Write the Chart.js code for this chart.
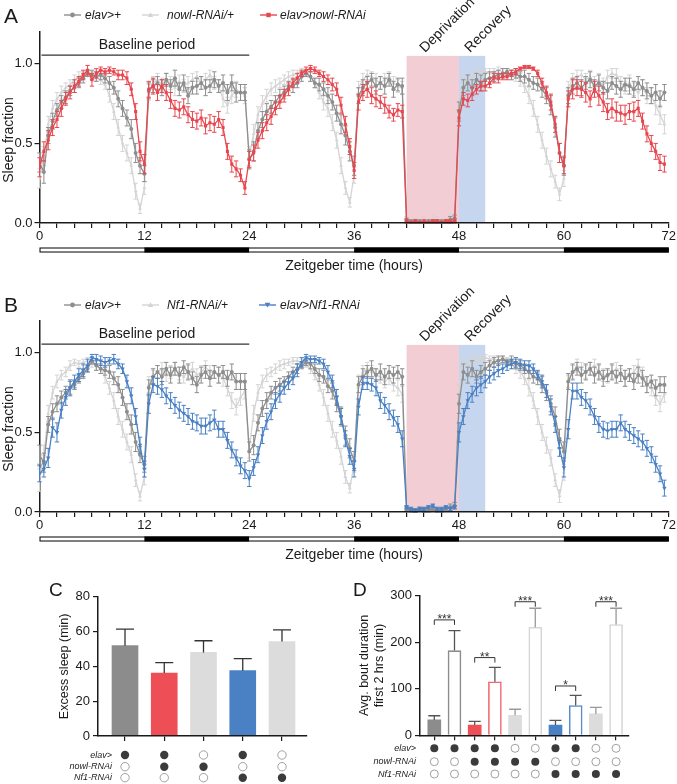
<!DOCTYPE html>
<html><head><meta charset="utf-8">
<script src="https://cdn.jsdelivr.net/npm/chart.js@4.4.1/dist/chart.umd.min.js"></script>
<style>
html,body{margin:0;padding:0;background:#fff;}
body{width:677px;height:784px;position:relative;overflow:hidden;font-family:"Liberation Sans",Arial,sans-serif;color:#1a1a1a;}
canvas{position:absolute;}
.t{position:absolute;white-space:nowrap;line-height:1;}
.i{font-style:italic;}
.lg{position:absolute;}
.rot{position:absolute;white-space:nowrap;line-height:1;transform:translate(-50%,-50%) rotate(-90deg);}
.diag{position:absolute;white-space:nowrap;line-height:1;font-size:14px;transform-origin:0 11.85px;transform:rotate(-45deg);}
</style></head><body>
<canvas id="cA" style="left:0;top:0" width="677" height="285"></canvas>
<canvas id="cB" style="left:0;top:289px" width="677" height="285"></canvas>
<canvas id="cC" style="left:0;top:560px" width="340" height="224"></canvas>
<canvas id="cD" style="left:340px;top:560px" width="337" height="224"></canvas>

<div class="t" style="left:4px;top:5px;font-size:21px">A</div>
<div class="t" style="left:4px;top:294px;font-size:21px">B</div>
<div class="t" style="left:49px;top:580px;font-size:19px">C</div>
<div class="t" style="left:353px;top:580px;font-size:19px">D</div>

<!-- legends -->
<svg class="lg" style="left:64px;top:10px" width="17" height="10"><line x1="0" y1="5" x2="17" y2="5" stroke="#8e8e8e" stroke-width="1.4"/><circle cx="8.5" cy="5" r="2.4" fill="#8e8e8e"/></svg>
<div class="t i" style="left:85px;top:9px;font-size:12px">elav&gt;+</div>
<svg class="lg" style="left:142px;top:10px" width="17" height="10"><line x1="0" y1="5" x2="17" y2="5" stroke="#d4d4d4" stroke-width="1.4"/><polygon points="8.5,2.3 11.2,7 5.8,7" fill="#d4d4d4"/></svg>
<div class="t i" style="left:167px;top:9px;font-size:12px">nowl-RNAi/+</div>
<svg class="lg" style="left:260px;top:10px" width="17" height="10"><line x1="0" y1="5" x2="17" y2="5" stroke="#e8474f" stroke-width="1.4"/><rect x="6.3" y="2.8" width="4.4" height="4.4" fill="#e8474f"/></svg>
<div class="t i" style="left:280px;top:9px;font-size:12px">elav&gt;nowl-RNAi</div>

<svg class="lg" style="left:64px;top:300px" width="17" height="10"><line x1="0" y1="5" x2="17" y2="5" stroke="#8e8e8e" stroke-width="1.4"/><circle cx="8.5" cy="5" r="2.4" fill="#8e8e8e"/></svg>
<div class="t i" style="left:85px;top:299px;font-size:12px">elav&gt;+</div>
<svg class="lg" style="left:142px;top:300px" width="17" height="10"><line x1="0" y1="5" x2="17" y2="5" stroke="#d4d4d4" stroke-width="1.4"/><polygon points="8.5,2.3 11.2,7 5.8,7" fill="#d4d4d4"/></svg>
<div class="t i" style="left:167px;top:299px;font-size:12px">Nf1-RNAi/+</div>
<svg class="lg" style="left:259px;top:300px" width="17" height="10"><line x1="0" y1="5" x2="17" y2="5" stroke="#4a80c4" stroke-width="1.4"/><polygon points="5.6,2.8 11.4,2.8 8.5,7.6" fill="#4a80c4"/></svg>
<div class="t i" style="left:280px;top:299px;font-size:12px">elav&gt;Nf1-RNAi</div>

<!-- annotations -->
<div class="t" style="left:147px;top:36.5px;font-size:14px;transform:translateX(-50%)">Baseline period</div>
<div class="t" style="left:147px;top:326px;font-size:14px;transform:translateX(-50%)">Baseline period</div>
<div class="diag" style="left:425px;top:41.2px">Deprivation</div>
<div class="diag" style="left:469.5px;top:40.9px">Recovery</div>
<div class="diag" style="left:425px;top:329.9px">Deprivation</div>
<div class="diag" style="left:469.5px;top:329.9px">Recovery</div>
<div class="rot" style="left:8px;top:140px;font-size:14px">Sleep fraction</div>
<div class="rot" style="left:8px;top:429px;font-size:14px">Sleep fraction</div>

<!-- dot matrix labels -->
<div class="t i" style="right:565px;top:750.6px;font-size:9px">elav&gt;</div>
<div class="t i" style="right:565px;top:762.3px;font-size:9px">nowl-RNAi</div>
<div class="t i" style="right:565px;top:773.3px;font-size:9px">Nf1-RNAi</div>
<div class="t i" style="right:261px;top:743.9px;font-size:9px">elav&gt;</div>
<div class="t i" style="right:261px;top:757.3px;font-size:9px">nowl-RNAi</div>
<div class="t i" style="right:261px;top:769.6px;font-size:9px">Nf1-RNAi</div>

<script>
// ---------- DATA ----------
// time axis (hours, 30-min bins)
const hours = Array.from({length:144},(_,i)=>i*0.5);
const xLabelHours = [0,12,24,36,48,60,72];
const sleepTicks = [0,0.5,1.0];
const ldBounds = [0,12,24,36,48,60,72];
const ldDark = [false,true,false,true,false,true];
const deprivationWin = [42,48];
const recoveryWin = [48,51];
const shadeTop = 1.05;
const baselineWin = [0,24];
const baselineLevel = 1.055;

// Panel A
const aElav = [
.38,.32,.55,.64,.71,.76,.79,.83,.85,.88,.91,.94,.93,.92,.93,.91,.88,.85,.78,.72,.66,.59,.44,.36,
.31,.83,.86,.88,.85,.90,.86,.91,.84,.88,.80,.85,.86,.88,.85,.86,.90,.86,.88,.82,.88,.82,.82,.82,
.40,.45,.58,.65,.70,.73,.76,.80,.82,.86,.86,.88,.92,.94,.92,.88,.87,.84,.80,.76,.69,.62,.55,.45,
.36,.80,.85,.88,.90,.86,.88,.86,.90,.84,.87,.86,.02,.01,.01,.01,.00,.01,.01,.01,.01,.01,.02,.03,
.70,.85,.88,.85,.90,.88,.90,.91,.92,.93,.94,.95,.93,.94,.92,.92,.90,.88,.87,.84,.80,.74,.60,.44,
.36,.80,.86,.88,.85,.88,.90,.86,.88,.85,.83,.88,.86,.84,.87,.86,.84,.88,.85,.83,.80,.82,.78,.82];
const aElavErr = [
.06,.07,.05,.05,.04,.04,.04,.03,.03,.03,.03,.02,.03,.03,.03,.03,.04,.04,.05,.05,.05,.06,.06,.05,
.05,.05,.04,.04,.05,.04,.04,.05,.04,.05,.05,.04,.05,.04,.05,.04,.05,.04,.05,.05,.05,.06,.05,.05,
.06,.06,.05,.05,.05,.04,.04,.04,.04,.03,.04,.03,.03,.02,.03,.03,.04,.04,.05,.05,.05,.06,.06,.06,
.06,.05,.05,.04,.04,.05,.04,.05,.04,.05,.04,.05,.01,.01,.01,.01,.01,.01,.01,.01,.01,.01,.02,.02,
.06,.05,.05,.05,.04,.05,.04,.04,.03,.03,.03,.02,.03,.03,.03,.04,.04,.04,.04,.05,.05,.06,.06,.06,
.06,.05,.05,.04,.05,.04,.05,.04,.05,.04,.05,.04,.05,.05,.04,.05,.05,.04,.05,.05,.05,.05,.05,.05];
const aNowl = [
.28,.42,.62,.72,.78,.82,.85,.87,.90,.92,.93,.94,.93,.92,.90,.87,.80,.70,.60,.50,.44,.36,.20,.09,
.22,.82,.88,.90,.87,.90,.88,.85,.89,.86,.88,.90,.92,.88,.90,.93,.88,.86,.78,.74,.80,.84,.82,.80,
.42,.56,.68,.75,.80,.84,.86,.88,.90,.92,.93,.94,.95,.94,.92,.88,.82,.76,.72,.63,.52,.36,.22,.13,
.30,.85,.90,.93,.92,.90,.88,.90,.92,.88,.86,.85,.03,.01,.02,.01,.02,.01,.03,.02,.01,.02,.03,.04,
.72,.88,.90,.92,.94,.93,.95,.94,.95,.96,.95,.94,.93,.92,.90,.86,.80,.72,.62,.52,.42,.34,.26,.18,
.28,.85,.90,.92,.93,.90,.92,.88,.90,.86,.92,.94,.93,.88,.85,.88,.84,.82,.85,.80,.80,.74,.68,.62];
const aNowlErr = [
.06,.06,.05,.05,.04,.04,.03,.03,.03,.03,.02,.02,.02,.03,.03,.03,.04,.05,.05,.05,.05,.05,.05,.03,
.04,.05,.04,.04,.04,.04,.04,.05,.04,.04,.04,.04,.03,.04,.04,.03,.04,.04,.05,.05,.05,.05,.05,.05,
.06,.06,.05,.05,.04,.04,.04,.03,.03,.03,.03,.02,.02,.02,.03,.03,.04,.05,.05,.05,.05,.05,.04,.03,
.05,.04,.04,.03,.03,.04,.04,.04,.03,.04,.04,.04,.01,.01,.01,.01,.02,.01,.02,.02,.01,.01,.02,.02,
.05,.04,.03,.03,.03,.03,.02,.03,.02,.02,.02,.03,.03,.03,.04,.04,.05,.05,.05,.05,.05,.05,.04,.04,
.05,.04,.04,.04,.03,.04,.04,.04,.04,.05,.04,.03,.04,.04,.04,.05,.04,.05,.05,.05,.05,.06,.06,.06];
const aRnai = [
.35,.45,.52,.60,.65,.72,.78,.82,.86,.89,.93,.96,.90,.94,.96,.95,.96,.95,.93,.93,.91,.84,.70,.45,
.37,.84,.86,.82,.86,.82,.77,.72,.71,.73,.68,.65,.64,.66,.61,.63,.62,.65,.60,.45,.37,.34,.30,.22,
.40,.44,.52,.58,.63,.67,.72,.76,.80,.84,.88,.91,.94,.96,.97,.96,.94,.92,.90,.87,.84,.74,.62,.48,
.33,.76,.82,.84,.80,.78,.76,.74,.70,.68,.71,.70,.01,.00,.01,.00,.01,.00,.01,.01,.00,.01,.01,.01,
.66,.78,.77,.81,.84,.86,.86,.88,.91,.91,.92,.92,.94,.95,.97,.98,.98,.97,.94,.88,.82,.76,.62,.44,
.36,.78,.84,.85,.84,.82,.78,.84,.80,.76,.70,.72,.70,.69,.68,.70,.70,.72,.64,.56,.50,.45,.38,.37];
const aRnaiErr = [
.06,.06,.06,.05,.05,.05,.04,.04,.04,.03,.03,.03,.04,.03,.02,.02,.02,.02,.03,.03,.04,.04,.05,.06,
.06,.05,.05,.05,.04,.05,.05,.05,.05,.05,.05,.05,.05,.05,.05,.05,.05,.05,.05,.05,.05,.05,.04,.04,
.05,.05,.05,.05,.05,.05,.04,.04,.04,.04,.03,.03,.02,.02,.02,.02,.02,.03,.03,.04,.04,.05,.05,.05,
.05,.05,.05,.05,.05,.05,.04,.05,.04,.04,.04,.04,.01,.01,.01,.01,.01,.01,.01,.01,.01,.01,.01,.01,
.05,.04,.04,.04,.03,.03,.03,.03,.03,.03,.02,.02,.02,.02,.01,.01,.01,.01,.02,.03,.04,.05,.05,.06,
.05,.05,.06,.05,.05,.06,.05,.05,.06,.06,.05,.06,.06,.05,.06,.05,.06,.05,.05,.05,.05,.05,.05,.05];

// Panel B
const bElav = [
.36,.31,.55,.63,.68,.72,.75,.78,.80,.84,.87,.90,.95,.92,.90,.89,.88,.84,.80,.72,.63,.55,.44,.36,
.30,.78,.85,.88,.85,.90,.86,.90,.86,.91,.88,.84,.80,.86,.88,.84,.88,.86,.88,.84,.88,.82,.82,.82,
.38,.42,.56,.65,.70,.75,.78,.80,.82,.85,.88,.90,.92,.94,.93,.90,.86,.85,.79,.76,.68,.60,.48,.40,
.32,.80,.85,.88,.90,.86,.88,.85,.88,.86,.88,.85,.02,.01,.01,.02,.01,.01,.02,.01,.01,.02,.03,.04,
.68,.88,.86,.90,.85,.88,.90,.92,.94,.95,.96,.94,.95,.93,.92,.90,.88,.85,.84,.80,.75,.68,.60,.46,
.38,.82,.88,.90,.86,.88,.90,.86,.88,.84,.86,.88,.85,.87,.84,.86,.82,.86,.84,.80,.82,.78,.80,.80];
const bElavErr = [
.06,.06,.05,.05,.05,.04,.04,.04,.03,.03,.03,.02,.02,.03,.03,.03,.04,.04,.05,.05,.05,.06,.06,.05,
.05,.05,.05,.04,.05,.04,.05,.04,.05,.04,.05,.04,.05,.05,.04,.05,.04,.05,.04,.05,.05,.05,.05,.05,
.06,.06,.05,.05,.05,.04,.04,.04,.03,.03,.03,.03,.02,.02,.03,.03,.04,.04,.04,.05,.05,.06,.06,.06,
.06,.05,.05,.04,.05,.04,.05,.05,.04,.05,.04,.05,.01,.01,.01,.01,.01,.01,.01,.01,.01,.01,.02,.02,
.06,.05,.05,.05,.04,.04,.04,.03,.03,.03,.02,.02,.03,.03,.03,.03,.04,.04,.04,.05,.05,.05,.06,.06,
.06,.05,.05,.04,.05,.05,.04,.05,.05,.05,.04,.05,.04,.05,.05,.04,.05,.05,.05,.05,.04,.05,.05,.05];
const bNf1 = [
.20,.36,.62,.75,.82,.86,.88,.92,.94,.93,.94,.95,.93,.92,.90,.85,.78,.70,.60,.52,.44,.36,.20,.10,
.22,.80,.85,.88,.90,.86,.88,.90,.87,.85,.88,.90,.86,.88,.91,.88,.88,.86,.84,.78,.70,.66,.72,.76,
.40,.62,.75,.82,.86,.88,.90,.92,.93,.94,.95,.95,.94,.93,.90,.86,.80,.72,.62,.52,.45,.35,.22,.15,
.30,.82,.88,.90,.88,.86,.85,.82,.84,.80,.78,.74,.03,.02,.01,.02,.01,.02,.02,.01,.02,.03,.03,.05,
.75,.92,.94,.95,.96,.96,.97,.96,.96,.95,.96,.95,.93,.90,.88,.84,.78,.70,.60,.50,.42,.34,.20,.10,
.25,.82,.88,.92,.90,.88,.90,.92,.88,.86,.85,.88,.90,.86,.84,.86,.88,.92,.86,.80,.78,.72,.68,.74];
const bNf1Err = [
.07,.06,.05,.04,.04,.03,.03,.03,.02,.02,.02,.02,.02,.03,.03,.04,.04,.05,.05,.05,.05,.05,.04,.03,
.05,.05,.04,.04,.04,.04,.04,.04,.04,.04,.04,.04,.04,.04,.04,.04,.04,.05,.05,.05,.05,.05,.05,.05,
.06,.05,.05,.04,.04,.03,.03,.03,.03,.02,.02,.02,.02,.02,.03,.03,.04,.05,.05,.05,.05,.05,.04,.03,
.05,.04,.04,.04,.04,.04,.04,.04,.04,.04,.05,.05,.01,.01,.01,.01,.01,.01,.01,.01,.01,.01,.02,.02,
.05,.04,.03,.03,.02,.02,.02,.02,.02,.02,.02,.02,.03,.03,.04,.04,.05,.05,.05,.05,.05,.05,.04,.04,
.05,.04,.04,.04,.04,.04,.04,.04,.04,.04,.04,.04,.04,.04,.05,.04,.04,.04,.05,.05,.05,.05,.05,.05];
const bRnai = [
.24,.27,.34,.53,.50,.64,.72,.78,.82,.86,.89,.92,.97,.96,.95,.94,.95,.96,.93,.90,.82,.73,.60,.42,
.27,.68,.80,.79,.77,.73,.70,.67,.64,.62,.60,.57,.56,.54,.54,.56,.58,.52,.52,.45,.39,.34,.29,.26,
.21,.28,.36,.48,.57,.63,.70,.74,.78,.81,.84,.89,.94,.97,.96,.96,.95,.93,.88,.82,.72,.60,.46,.35,
.27,.66,.81,.81,.80,.78,.70,.67,.63,.59,.55,.46,.03,.02,.01,.02,.02,.03,.04,.02,.02,.03,.02,.03,
.50,.60,.70,.74,.78,.80,.82,.85,.87,.89,.90,.92,.93,.94,.93,.92,.92,.90,.86,.82,.76,.66,.55,.40,
.28,.52,.76,.76,.72,.70,.66,.60,.55,.52,.51,.52,.52,.56,.52,.50,.48,.46,.44,.40,.36,.30,.24,.15];
const bRnaiErr = [
.05,.05,.06,.06,.06,.05,.05,.05,.04,.04,.04,.04,.02,.03,.03,.03,.02,.03,.03,.03,.04,.05,.05,.05,
.05,.06,.05,.05,.05,.05,.05,.05,.05,.05,.05,.05,.05,.05,.05,.05,.06,.05,.05,.05,.05,.05,.05,.05,
.05,.05,.05,.05,.05,.05,.05,.05,.04,.04,.04,.04,.03,.02,.02,.02,.02,.03,.04,.04,.05,.05,.05,.05,
.05,.05,.04,.04,.04,.05,.05,.05,.05,.05,.05,.05,.01,.01,.01,.01,.01,.01,.01,.01,.01,.01,.01,.01,
.06,.05,.05,.05,.05,.05,.04,.04,.04,.04,.03,.03,.03,.03,.03,.03,.03,.03,.03,.04,.04,.05,.05,.05,
.06,.06,.05,.05,.05,.05,.05,.05,.05,.05,.05,.05,.05,.05,.05,.05,.05,.05,.05,.05,.05,.05,.05,.05];

// Panel C
const cGroups = [0,1,2,3,4];
const cExcess = [51.9, 36.2, 48.0, 37.5, 54.2];
const cExcessErr = [9.5, 5.9, 6.7, 6.9, 6.7];
const cTicks = [0,20,40,60,80];
// Panel D
const dGroups = [0,1,2,3,4,5,6,7,8,9];
const dBout = [33, 182, 22, 115, 43, 232, 22, 64, 46, 238];
const dBoutErr = [9, 43, 8, 31, 13, 41, 10, 22, 14, 35];
const dTicks = [0,100,200,300];
const sigPairs = [[0,1],[2,3],[4,5],[6,7],[8,9]];
const sigLevel = [248, 167, 287, 106, 287];
const sigText = ['***','**','***','*','***'];
// genotype matrices (1 = present)
const cElav = [1,1,0,1,0], cNowl = [0,1,1,0,0], cNf1 = [0,0,0,1,1];
const dElav = [1,1,1,1,0,0,1,1,0,0], dNowl = [0,0,1,1,1,1,0,0,0,0], dNf1 = [0,0,0,0,0,0,1,1,1,1];

// ---------- STYLE ----------
const FAM = "'Liberation Sans', Arial, Helvetica, sans-serif";
Chart.defaults.font.family = FAM;
Chart.defaults.color = '#1a1a1a';
const INK = '#1a1a1a';
const C_DARK = '#8e8e8e', C_LIGHT = '#d4d4d4', C_RED = '#e8474f', C_BLUE = '#4a80c4';
const PINK = '#f2cdd4', LBLUE = '#c6d6ee';

function series(vals, errs, color, style, radius, rot){
  return {data: hours.map((h,i)=>({x:h,y:vals[i]})), errors: errs,
    borderColor: color, backgroundColor: color, borderWidth: 1.3,
    pointStyle: style, pointRadius: radius, pointRotation: rot||0,
    pointBorderWidth: 0, pointBackgroundColor: color, tension: 0};
}

const lineDecor = {
  id: 'lineDecor',
  beforeDatasetsDraw(chart){
    const {ctx, scales:{x, y}} = chart;
    ctx.save();
    const yt = y.getPixelForValue(shadeTop), yb = y.getPixelForValue(0);
    const x0 = x.getPixelForValue(deprivationWin[0]), x1 = x.getPixelForValue(deprivationWin[1]);
    const x2 = x.getPixelForValue(recoveryWin[1]);
    ctx.fillStyle = PINK; ctx.fillRect(x0, yt, x1 - x0, yb - yt);
    ctx.fillStyle = LBLUE; ctx.fillRect(x1, yt, x2 - x1, yb - yt);
    ctx.strokeStyle = '#333'; ctx.lineWidth = 1.4;
    const yl = y.getPixelForValue(baselineLevel);
    ctx.beginPath();
    ctx.moveTo(x.getPixelForValue(baselineWin[0]) + 2, yl);
    ctx.lineTo(x.getPixelForValue(baselineWin[1]), yl);
    ctx.stroke();
    ctx.restore();
  },
  afterDatasetDraw(chart, args){
    const ds = chart.data.datasets[args.index];
    if (!ds.errors) return;
    const {ctx, scales:{y}} = chart;
    ctx.save();
    ctx.strokeStyle = ds.borderColor; ctx.lineWidth = 1;
    args.meta.data.forEach((pt, i) => {
      const v = ds.data[i].y, e = ds.errors[i];
      const yt = y.getPixelForValue(v + e), yb = y.getPixelForValue(Math.max(0, v - e));
      ctx.beginPath();
      ctx.moveTo(pt.x, yt); ctx.lineTo(pt.x, yb);
      ctx.moveTo(pt.x - 2.2, yt); ctx.lineTo(pt.x + 2.2, yt);
      ctx.moveTo(pt.x - 2.2, yb); ctx.lineTo(pt.x + 2.2, yb);
      ctx.stroke();
    });
    ctx.restore();
  },
  afterDraw(chart){
    const {ctx, chartArea:a, scales:{x}} = chart;
    const top = a.bottom + 24.5, h = 5;
    ctx.save();
    for (let i = 0; i < ldDark.length; i++){
      const xa = x.getPixelForValue(ldBounds[i]), xb = x.getPixelForValue(ldBounds[i+1]);
      ctx.fillStyle = ldDark[i] ? '#000' : '#fff';
      ctx.fillRect(xa, top, xb - xa, h);
    }
    ctx.strokeStyle = '#000'; ctx.lineWidth = 1;
    ctx.strokeRect(x.getPixelForValue(0) + 0.5, top + 0.5, x.getPixelForValue(72) - x.getPixelForValue(0) - 1, h - 1);
    ctx.restore();
  }
};

function lineChart(id, sets){
  return new Chart(document.getElementById(id), {
    type: 'line',
    data: {datasets: sets},
    options: {
      responsive: false, animation: false, devicePixelRatio: 1, events: [],
      layout: {padding: {top: 32, right: 8, left: 0, bottom: 0}},
      plugins: {legend: {display: false}, tooltip: {enabled: false}},
      scales: {
        x: {type: 'linear', min: 0, max: 72,
          afterFit(s){ s.height = 62; },
          ticks: {stepSize: 2, autoSkip: false, maxRotation: 0, padding: 1, color: INK, font: {size: 13},
            callback: v => xLabelHours.includes(v) ? String(v) : ''},
          grid: {drawOnChartArea: false, drawTicks: true, tickLength: 5, color: INK, lineWidth: 1.2},
          border: {color: INK, width: 1.5, z: 1},
          title: {display: true, text: 'Zeitgeber time (hours)', color: INK, font: {size: 14}, padding: {top: 0, bottom: 10}}},
        y: {min: 0, max: 1.2,
          afterFit(s){ s.width = 39.5; },
          afterBuildTicks(s){ s.ticks = sleepTicks.map(v => ({value: v})); },
          ticks: {padding: 2, color: INK, font: {size: 13}, callback: v => Number(v).toFixed(1)},
          grid: {drawOnChartArea: false, drawTicks: true, tickLength: 5, color: INK, lineWidth: 1.2},
          border: {color: INK, width: 1.5}}
      }
    },
    plugins: [lineDecor]
  });
}

lineChart('cA', [
  series(aRnai, aRnaiErr, C_RED, 'rect', 2.2),
  series(aElav, aElavErr, C_DARK, 'circle', 2),
  series(aNowl, aNowlErr, C_LIGHT, 'triangle', 2.2)
]);
lineChart('cB', [
  series(bRnai, bRnaiErr, C_BLUE, 'triangle', 2.6, 180),
  series(bElav, bElavErr, C_DARK, 'circle', 2),
  series(bNf1, bNf1Err, C_LIGHT, 'triangle', 2.2)
]);

// ---------- bar panels ----------
const barDecor = {
  id: 'barDecor',
  afterDatasetsDraw(chart, args, o){
    const {ctx, scales:{x, y}} = chart;
    const ds = chart.data.datasets[0];
    ctx.save();
    // error bars (upper only)
    ds.data.forEach((d, i) => {
      const px = x.getPixelForValue(d.x);
      const yt = y.getPixelForValue(d.y + ds.errors[i]), yb = y.getPixelForValue(d.y);
      ctx.strokeStyle = o.errColors[i]; ctx.lineWidth = 1.3;
      ctx.beginPath();
      ctx.moveTo(px, yb); ctx.lineTo(px, yt);
      ctx.moveTo(px - o.cap, yt); ctx.lineTo(px + o.cap, yt);
      ctx.stroke();
    });
    // significance brackets
    if (o.sig) {
      ctx.strokeStyle = '#333'; ctx.lineWidth = 1; ctx.fillStyle = '#333';
      ctx.font = '12px ' + FAM; ctx.textAlign = 'center'; ctx.textBaseline = 'alphabetic';
      o.sig.pairs.forEach((p, k) => {
        const xa = x.getPixelForValue(p[0]), xb = x.getPixelForValue(p[1]);
        const yy = y.getPixelForValue(o.sig.level[k]);
        ctx.beginPath();
        ctx.moveTo(xa, yy + 5); ctx.lineTo(xa, yy); ctx.lineTo(xb, yy); ctx.lineTo(xb, yy + 5);
        ctx.stroke();
        ctx.fillText(o.sig.text[k], (xa + xb) / 2, yy + 3);
      });
    }
    // genotype dot matrix
    o.matrix.forEach((row, r) => {
      row.forEach((on, i) => {
        const px = x.getPixelForValue(i);
        ctx.beginPath();
        ctx.arc(px, o.rows[r], o.r, 0, Math.PI * 2);
        if (on) { ctx.fillStyle = '#3b3b3b'; ctx.fill(); }
        else { ctx.fillStyle = '#fff'; ctx.fill(); ctx.strokeStyle = '#8a8a8a'; ctx.lineWidth = 0.8; ctx.stroke(); }
      });
    });
    ctx.restore();
  }
};

function barAxes(xmin, xmax, groups, ymax, ticks, yWidth, title, titlePad, xh){
  return {
    x: {type: 'linear', min: xmin, max: xmax, offset: false,
      afterFit(s){ s.height = xh; },
      afterBuildTicks(s){ s.ticks = groups.map(v => ({value: v})); },
      ticks: {display: true, padding: 0, callback: () => ''},
      grid: {offset: false, drawOnChartArea: false, drawTicks: true, tickLength: 5, color: INK, lineWidth: 1.2},
      border: {color: INK, width: 1.5, z: 1}},
    y: {min: 0, max: ymax,
      afterFit(s){ s.width = yWidth; },
      afterBuildTicks(s){ s.ticks = ticks.map(v => ({value: v})); },
      ticks: {padding: 3, color: INK, font: {size: 13}},
      grid: {drawOnChartArea: false, drawTicks: true, tickLength: 5, color: INK, lineWidth: 1.2},
      border: {color: INK, width: 1.5},
      title: {display: true, text: title, color: INK, font: {size: 12.5, lineHeight: 1.2}, padding: {top: titlePad, bottom: 0}}}
  };
}

new Chart(document.getElementById('cC'), {
  type: 'bar',
  data: {datasets: [{
    data: cGroups.map((g, i) => ({x: g, y: cExcess[i]})),
    errors: cExcessErr,
    backgroundColor: ['#8c8c8c', '#ee4e55', '#dcdcdc', '#4a80c4', '#dcdcdc'],
    borderWidth: 0, barThickness: 26
  }]},
  options: {
    responsive: false, animation: false, devicePixelRatio: 1, events: [],
    layout: {padding: {top: 36.7, right: 33, left: 0, bottom: 0}},
    plugins: {legend: {display: false}, tooltip: {enabled: false},
      barDecor: {cap: 9, errColors: ['#333','#333','#333','#333','#333'],
        matrix: [cElav, cNowl, cNf1], rows: [195, 206.7, 217.7], r: 4.2}},
    scales: barAxes(-0.688, 4.637, cGroups, 80, cTicks, 98, 'Excess sleep (min)', 57.5, 48)
  },
  plugins: [barDecor]
});

new Chart(document.getElementById('cD'), {
  type: 'bar',
  data: {datasets: [{
    data: dGroups.map((g, i) => ({x: g, y: dBout[i]})),
    errors: dBoutErr,
    backgroundColor: ['#8c8c8c','#fff','#ee4e55','#fff','#dcdcdc','#fff','#4a80c4','#fff','#dcdcdc','#fff'],
    borderColor: ['#8c8c8c','#8c8c8c','#ee4e55','#ee6a70','#dcdcdc','#d6d6d6','#4a80c4','#5a8cc8','#dcdcdc','#d6d6d6'],
    borderWidth: [0,1.6,0,1.6,0,1.6,0,1.6,0,1.6],
    borderSkipped: 'bottom', barThickness: 13
  }]},
  options: {
    responsive: false, animation: false, devicePixelRatio: 1, events: [],
    layout: {padding: {top: 35.7, right: 48, left: 0, bottom: 0}},
    plugins: {legend: {display: false}, tooltip: {enabled: false},
      barDecor: {cap: 6, errColors: ['#555','#555','#555','#555','#999','#999','#555','#555','#999','#999'],
        sig: {pairs: sigPairs, level: sigLevel, text: sigText},
        matrix: [dElav, dNowl, dNf1], rows: [188.3, 201.7, 214], r: 4}},
    scales: barAxes(-0.708, 9.64, dGroups, 300, dTicks, 80, ['Avg. bout duration', 'first 2 hrs (min)'], 17.5, 48.7)
  },
  plugins: [barDecor]
});
</script>
</body></html>
